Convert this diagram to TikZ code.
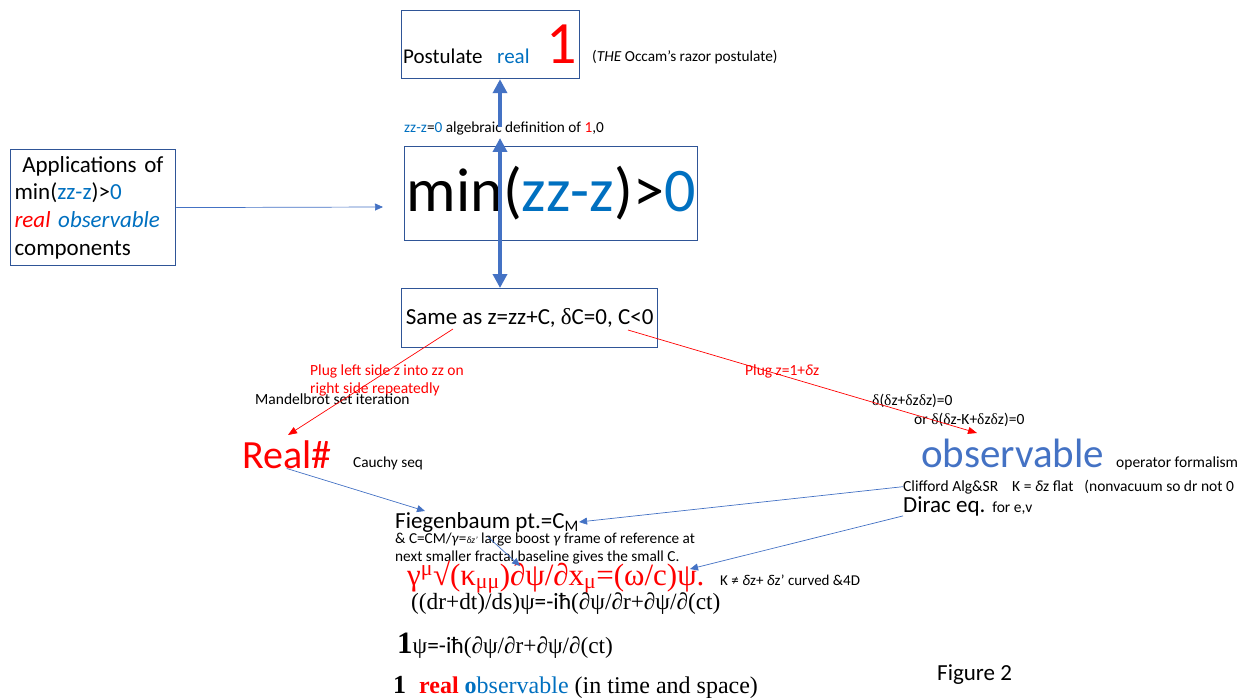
\documentclass[tikz,border=0pt]{standalone}
\usepackage{fontspec}
\setmainfont{Carlito}
\newfontfamily\tnr{Liberation Serif}
\newfontfamily\carl{Carlito}
\usetikzlibrary{arrows.meta, positioning}
\definecolor{ofblue}{HTML}{0070C0}
\definecolor{acblue}{HTML}{4472C4}
\definecolor{bxline}{HTML}{2F5597}
\newcommand{\fsz}[1]{\fontsize{#1}{#1}\selectfont}
\newcommand{\dl}{{\tnr δ}}

\begin{document}
\begin{tikzpicture}[x=1pt, y=-1pt,
            bx/.style={rectangle, draw=bxline, line width=1.2pt, inner sep=0pt},
            txt/.style={anchor=base west, inner sep=0pt},
            thk/.style={-{Triangle[length=14pt, width=14pt]}, line width=4pt, acblue},
            barr/.style={-{Triangle[length=8pt, width=7pt]}, line width=0.7pt, acblue},
            rarr/.style={-{Triangle[length=9pt, width=7pt]}, line width=0.7pt, red}]
          \useasboundingbox (0,0) rectangle (1258,698);
          % boxes
          \node[bx, minimum width=178pt, minimum height=68pt, anchor=north west] (post) at (401,10) {};
          \node[bx, minimum width=293pt, minimum height=94pt, anchor=north west, font=\fsz{62}] (minbox) at (404,146)
            {min(\textcolor{ofblue}{zz-z})>\textcolor{ofblue}{0}};
          \node[bx, anchor=north west, minimum width=165pt, minimum height=116pt, text width=157pt,
                inner xsep=3pt, align=left, font=\fontsize{23}{27.7}\selectfont] (apps) at (10,149)
            {\ Applications of\\ min(\textcolor{ofblue}{zz-z})>\textcolor{ofblue}{0}\\
             \textcolor{red}{\itshape real} \textcolor{ofblue}{\itshape observable}\\ components};
          \node[bx, minimum width=256pt, minimum height=59pt, anchor=north west, font=\fsz{23}] (same) at (401,288)
            {Same as z=zz+C, \dl C=0, C<0};
          % top texts
          \node[txt, font=\fsz{21}] (postw) at (403,64) {Postulate};
          \node[txt, font=\fsz{21}, text=ofblue] (realw) at (497,64) {real};
          \node[txt, font=\fsz{60}, text=red] (one) at (546,64) {1};
          \node[txt, font=\fsz{15.3}] (occam) at (592,62) {(\textit{THE} Occam’s razor postulate)};
          \node[txt, font=\fsz{15.3}] (alg) at (404,132)
            {\textcolor{ofblue}{zz-z}=\textcolor{ofblue}{0} algebraic definition of \textcolor{red}{1},0};
          % left branch
          \node[txt, font=\fsz{15.5}, text=red] (plug1) at (310,375) {Plug left side z into zz on};
          \node[txt, font=\fsz{15.5}, text=red] (plug2) at (310,393) {right side repeatedly};
          \node[txt, font=\fsz{15.5}] (mandel) at (255,404) {Mandelbrot set iteration};
          \node[txt, font=\fsz{40}, text=red] (realn) at (242,468) {Real\#};
          \node[txt, font=\fsz{15.3}] (cauchy) at (353,467) {Cauchy seq};
          % right branch
          \node[txt, font=\fsz{15.5}, text=red] (plugz) at (745,375) {Plug z=1+\textit{δ}z};
          \node[txt, font=\fsz{15.5}] (dd1) at (872,405) {\dl(\dl z+\dl z\dl z)=0};
          \node[txt, font=\fsz{15.5}] (dd2) at (914,424) {or \dl(\dl z-K+\dl z\dl z)=0};
          \node[txt, font=\fsz{41}, text=acblue] (obs) at (921,467) {observable};
          \node[txt, font=\fsz{15.5}] (opf) at (1116,467) {operator formalism};
          \node[txt, font=\fsz{15.5}] (cliff) at (903,491)
            {Clifford Alg\&SR\hspace{14pt}K = \textit{δ}z flat\hspace{11pt}(nonvacuum so dr not 0};
          \node[txt, font=\fsz{23}] (dirac) at (903,512) {Dirac eq. {\fsz{15.5}for e,v}};
          % bottom
          \node[txt, font=\fsz{23}] (fieg) at (395,528) {Fiegenbaum pt.=C\textsubscript{M}};
          \node[txt, font=\fsz{15.2}] (cm1) at (395,543)
            {\& C=CM/\textit{γ}={\fsz{9.5}\textit{δz’}} large boost \textit{γ} frame of reference at};
          \node[txt, font=\fsz{15.3}] (cm2) at (395,561) {next smaller fractal baseline gives the small C.};
          \node[txt, font={\tnr\fsz{31}}, text=red] (geq) at (407,585)
            {γ\textsuperscript{μ}√(κ\textsubscript{μμ})∂ψ/∂x\textsubscript{μ}=(ω/c)ψ.};
          \node[txt, font=\fsz{15}] (kneq) at (720,585) {K ≠ \textit{δ}z+ \textit{δ}z’ curved \&4D};
          \node[txt, font={\tnr\fsz{23.3}}] (eqa) at (411,609) {((dr+dt)/ds)ψ{\carl=-iħ}(∂ψ/∂r+∂ψ/∂(ct)};
          \node[txt, font={\tnr\fsz{23.3}}] (eqb) at (397,653) {{\bfseries\fsz{31}1}ψ{\carl=-iħ}(∂ψ/∂r+∂ψ/∂(ct)};
          \node[txt, font={\tnr\fsz{24}}] (reobs) at (393,693)
            {{\bfseries\fsz{26}1}\hspace{13pt}\textcolor{red}{\bfseries real} \textcolor{ofblue}{\bfseries o}\textcolor{ofblue}{bservable} (in time and space)};
          \node[txt, font=\fsz{23}] (fig) at (937,680) {Figure 2};
          % arrow ends
          \coordinate (ax) at (500,0);
          \coordinate (atop) at (500,127);
          \coordinate (dtop) at (500,138);
          \coordinate (minin) at (383,207);
          \coordinate (sL) at (453,329);
          \coordinate (sR) at (628,330);
          \coordinate (rL) at (288,435);
          \coordinate (oL) at (977,433);
          \coordinate (fT) at (425,511);
          \coordinate (gT) at (690,569);
          \coordinate (zS) at (488,537);
          \coordinate (zT) at (520,566);
          % arrows
          \draw[thk] (atop) -- (post.south -| ax);
          \draw[thk, {Triangle[length=14pt, width=14pt]}-{Triangle[length=14pt, width=14pt]}] (dtop) -- (same.north -| ax);
          \draw[barr] (apps.east) -- (minin);
          \draw[rarr] (sL) -- (rL);
          \draw[rarr] (sR) -- (oL);
          \draw[barr] (realn.south) -- (fT);
          \draw[barr] (cliff.west) -- (fieg.east);
          \draw[barr] (dirac.south west) -- (gT);
          \draw[barr] (zS) -- (zT);
        \end{tikzpicture}
\end{document}
